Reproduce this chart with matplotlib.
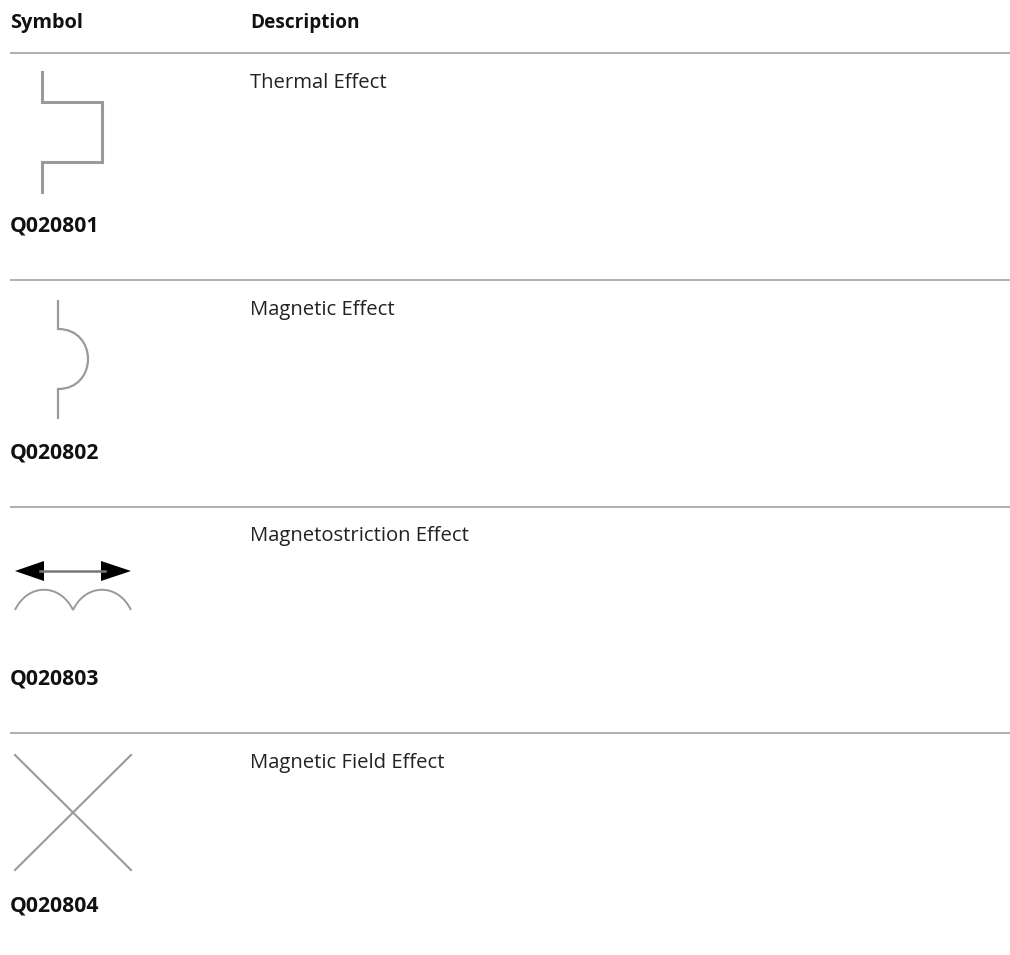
import matplotlib
matplotlib.use('Agg')
import matplotlib.pyplot as plt
from matplotlib.path import Path
from matplotlib.patches import PathPatch, Polygon

headers = ['Symbol', 'Description']
codes = ['Q020801', 'Q020802', 'Q020803', 'Q020804']
descriptions = ['Thermal Effect', 'Magnetic Effect', 'Magnetostriction Effect', 'Magnetic Field Effect']
rule_y = [53, 280, 507, 733]
code_y = [225.5, 452.5, 678.5, 905.5]
desc_y = [83.5, 309.5, 535.5, 762.5]

thermal_x = [42, 42, 102, 102, 42, 42]
thermal_y = [72, 102, 102, 162, 162, 192]

plt.rcParams['font.family'] = ['Open Sans', 'DejaVu Sans']
fig = plt.figure(figsize=(10.1, 9.55), dpi=100)
ax = fig.add_axes([0, 0, 1, 1])
ax.set_xlim(0, 1010)
ax.set_ylim(955, 0)
ax.axis('off')

GREY = '#9a9a9a'

ax.text(10, 23, headers[0], fontsize=14.4, fontweight='bold', va='center', color='#111111')
ax.text(250, 23, headers[1], fontsize=13.7, fontweight='bold', va='center', color='#111111')

for y in rule_y:
    ax.plot([10, 1010], [y, y], color=GREY, lw=1.1, solid_capstyle='butt')
for y, c in zip(code_y, codes):
    ax.text(10, y, c, fontsize=15.2, fontweight='bold', va='center', color='#111111')
for y, d in zip(desc_y, descriptions):
    ax.text(250, y, d, fontsize=14.6, va='center', color='#222222')

# thermal
ax.plot(thermal_x, thermal_y, color=GREY, lw=2.2, solid_joinstyle='miter')

# magnetic: straight bits + half circle
mag = Path([(58, 300), (58, 329), (98, 329), (98, 389), (58, 389), (58, 419)],
           [Path.MOVETO, Path.LINETO, Path.CURVE4, Path.CURVE4, Path.CURVE4, Path.LINETO])
ax.add_patch(PathPatch(mag, fill=False, edgecolor=GREY, lw=1.6))

# magnetostriction
ax.plot([40, 105], [571, 571], color='#777777', lw=1.8)
ax.add_patch(Polygon([(15, 571), (44, 561), (44, 581)], closed=True, color='black', lw=0))
ax.add_patch(Polygon([(131, 571), (101, 561), (101, 581)], closed=True, color='black', lw=0))
humps = Path([(15, 610), (28, 583), (60, 583), (73, 610), (86, 583), (118, 583), (131, 610)],
             [Path.MOVETO, Path.CURVE4, Path.CURVE4, Path.CURVE4, Path.CURVE4, Path.CURVE4, Path.CURVE4])
ax.add_patch(PathPatch(humps, fill=False, edgecolor=GREY, lw=1.4))

# magnetic field
ax.plot([15, 131], [755, 870], color=GREY, lw=1.5)
ax.plot([15, 131], [870, 755], color=GREY, lw=1.5)

fig.savefig('out.png', dpi=100)
